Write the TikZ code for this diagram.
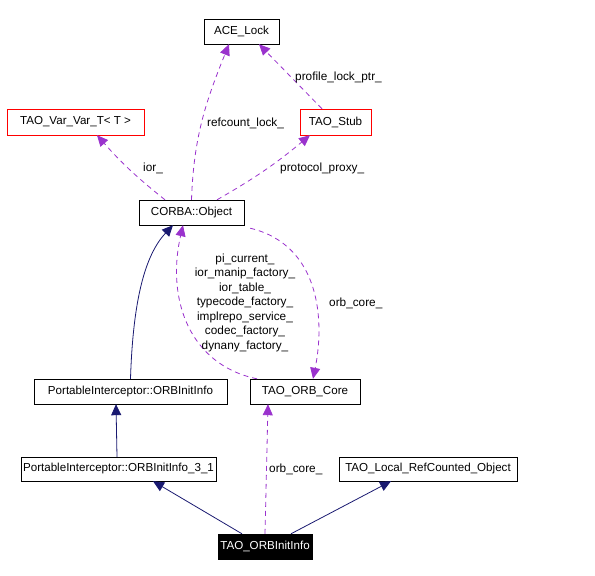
\documentclass[tikz,border=0pt]{standalone}
\usepackage{fontspec}
\setmainfont{Liberation Sans}
\usepackage{xcolor}
\usepackage{tikz}
\usetikzlibrary{calc}
\usetikzlibrary{arrows.meta}
\usetikzlibrary{shapes}
\usetikzlibrary{positioning}

\definecolor{navy}{HTML}{191970}
\definecolor{orchid}{HTML}{9A32CD}

\begin{document}
\begin{tikzpicture}[x=1pt, y=1pt,
  cls/.style={rectangle, draw=black, inner sep=0pt, minimum height=25pt, font=\fontsize{11.6}{14.5}\selectfont},
  tpl/.style={cls, draw=red},
  inh/.style={-{Triangle[length=11pt,width=10pt]}, draw=navy, fill=none, line width=0.8pt},
  use/.style={-{Triangle[length=11pt,width=10pt]}, draw=orchid, dash pattern=on 5pt off 4pt, line width=0.8pt},
  lbl/.style={font=\fontsize{11.8}{14.5}\selectfont, inner sep=0pt, anchor=west}]
 \useasboundingbox (0,0) rectangle (595,576);
 \node [cls, minimum width=75pt] (ACE) at (241.5, 544.5) {ACE\_Lock};
 \node [tpl, minimum width=137pt, minimum height=26pt] (VAR) at (75.5, 454) {TAO\_Var\_Var\_T< T >};
 \node [tpl, minimum width=71pt, minimum height=26pt] (STUB) at (335.5, 454) {TAO\_Stub};
 \node [cls, minimum width=105pt] (OBJ) at (191.5, 363.5) {CORBA::Object};
 \node [cls, minimum width=193pt] (PII) at (130.5, 184.5) {PortableInterceptor::ORBInitInfo};
 \node [cls, minimum width=110pt] (CORE) at (305, 184.5) {TAO\_ORB\_Core};
 \node [cls, minimum width=195pt, minimum height=24pt] (PII31) at (118.5, 107) {PortableInterceptor::ORBInitInfo\_3\_1};
 \node [cls, minimum width=178pt, minimum height=24pt] (LRC) at (428, 107) {TAO\_Local\_RefCounted\_Object};
 \node [cls, minimum width=94pt, fill=black, text=white] (OII) at (265, 29.5) {TAO\_ORBInitInfo};
 % members
 \draw [use] (OBJ.north) to[out=88, in=-112] ([xshift=-12.5pt]ACE.south);
 \draw [use] ([xshift=-13.5pt]STUB.north) to ([xshift=17.5pt]ACE.south);
 \draw [use] ([xshift=-26.5pt]OBJ.north) to[bend left=5] ([xshift=21.5pt]VAR.south);
 \draw [use] ([xshift=25.5pt]OBJ.north) to[bend right=5] ([xshift=-25.5pt]STUB.south);
 \draw [use] ([xshift=6pt, yshift=-3pt]OBJ.south east) .. controls (320,331) and (325,256) .. ([xshift=8pt]CORE.north);
 \draw [use] ([xshift=-48pt]CORE.north) .. controls (190,211) and (166,276) .. ([xshift=-8.5pt]OBJ.south);
 \draw [use] (OII.north) to ([xshift=-37pt]CORE.south);
 % bases
 \draw [inh] (PII.north) .. controls (133,276) and (145,321) .. ([xshift=-18.5pt]OBJ.south);
 \draw [inh] ([xshift=-1.5pt]PII31.north) to ([xshift=-14.5pt]PII.south);
 \draw [inh] ([xshift=-23pt]OII.north) to ([xshift=34.5pt]PII31.south);
 \draw [inh] ([xshift=26pt]OII.north) to ([xshift=-37pt]LRC.south);
 % labels
 \node [lbl] (L1) at (207, 453) {refcount\_lock\_};
 \node [lbl] (L2) at (295, 499) {profile\_lock\_ptr\_};
 \node [lbl] (L3) at (143, 408) {ior\_};
 \node [lbl] (L4) at (280, 408) {protocol\_proxy\_};
 \node [lbl] (L5) at (329, 273) {orb\_core\_};
 \node [lbl, anchor=center, align=center] (L6) at (245, 273.5) {pi\_current\_\\ior\_manip\_factory\_\\ior\_table\_\\typecode\_factory\_\\implrepo\_service\_\\codec\_factory\_\\dynany\_factory\_};
 \node [lbl] (L7) at (269, 107) {orb\_core\_};
\end{tikzpicture}
\end{document}
